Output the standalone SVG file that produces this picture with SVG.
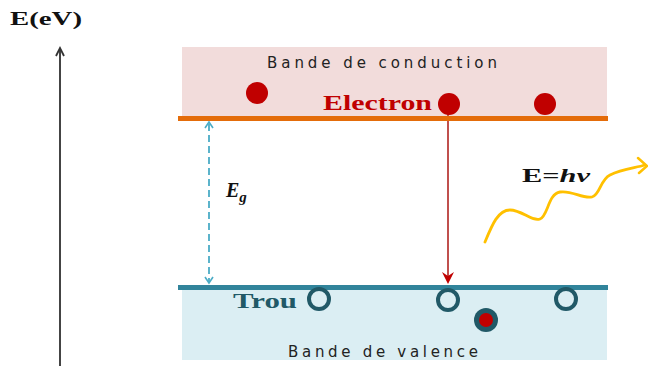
<svg xmlns="http://www.w3.org/2000/svg" width="648" height="367" viewBox="0 0 648 367">
<style>
.serif{font-family:"Liberation Serif","DejaVu Serif",serif;font-weight:bold}
.band{font-family:"DejaVu Sans","Liberation Sans",sans-serif;font-size:15px;fill:#222}
.hole{fill:none;stroke:#215967;stroke-width:4}
.el{fill:#c00000}
</style>

<g id="axis">
<line x1="60" y1="50" x2="60" y2="366" stroke="#444" stroke-width="2"/>
<path d="M56,56 L60,48 L64,56" fill="none" stroke="#333" stroke-width="1.8"/>
<text class="serif" x="10" y="25" font-size="19" fill="#111" textLength="72" lengthAdjust="spacingAndGlyphs">E(eV)</text>
</g>

<g id="conduction-band">
<rect x="182" y="47" width="425" height="71" fill="#f2dcdb"/>
<text class="band" x="267" y="68" textLength="230" lengthAdjust="spacing">Bande de conduction</text>
</g>

<g id="valence-band">
<rect x="182" y="287" width="425" height="73" fill="#dbeef3"/>
<text class="band" x="288" y="357" textLength="190" lengthAdjust="spacing">Bande de valence</text>
</g>

<g id="connectors">
<line x1="209" y1="124" x2="209" y2="282" stroke="#4bacc6" stroke-width="1.8" stroke-dasharray="7,4"/>
<path d="M205,128 L209,122 L213,128" fill="none" stroke="#4bacc6" stroke-width="1.6"/>
<path d="M205,277 L209,283 L213,277" fill="none" stroke="#4bacc6" stroke-width="1.6"/>
<line x1="448" y1="112" x2="448" y2="278" stroke="#c0504d" stroke-width="2"/>
<path d="M442,272 L448,284 L454,272 L448,276 Z" fill="#c00000"/>
<path d="M485,242 C492,225 498,210 510,210 C522,210 532,222 540,219 C548,216 548,194 560,192 C572,190 582,199 592,197 C600,195 600,180 610,175 C622,169 635,168 645,165" fill="none" stroke="#ffc000" stroke-width="2.8" stroke-linecap="round"/>
<path d="M638,158 L647,166 L639,173" fill="none" stroke="#ffc000" stroke-width="2.5" stroke-linecap="round"/>
</g>

<g id="conduction-line">
<rect x="178" y="116" width="430" height="5" fill="#e46c0a"/>
</g>
<g id="valence-line">
<rect x="178" y="285" width="430" height="5" fill="#31849b"/>
</g>

<g id="electrons">
<circle class="el" cx="257" cy="93" r="11"/>
<circle class="el" cx="449" cy="104" r="11"/>
<circle class="el" cx="545" cy="104" r="11"/>
<text class="serif" x="323" y="110" font-size="22" fill="#c00000" textLength="109" lengthAdjust="spacingAndGlyphs">Electron</text>
</g>

<g id="holes">
<circle class="hole" cx="319" cy="299" r="10"/>
<circle class="hole" cx="448" cy="300" r="10"/>
<circle class="hole" cx="566" cy="299" r="10"/>
<circle cx="486" cy="320" r="12" fill="#215967"/>
<circle class="el" cx="486" cy="320" r="7"/>
<text class="serif" x="233" y="308" font-size="22" fill="#215967" textLength="64" lengthAdjust="spacingAndGlyphs">Trou</text>
</g>

<g id="eg-label">
<text class="serif" x="226" y="197" font-size="20" font-style="italic" fill="#111">E<tspan font-size="15" dy="5">g</tspan></text>
</g>

<g id="photon-label">
<text class="serif" x="522" y="182" font-size="19" fill="#111" textLength="68" lengthAdjust="spacingAndGlyphs">E=<tspan font-style="italic">hν</tspan></text>
</g>
</svg>
